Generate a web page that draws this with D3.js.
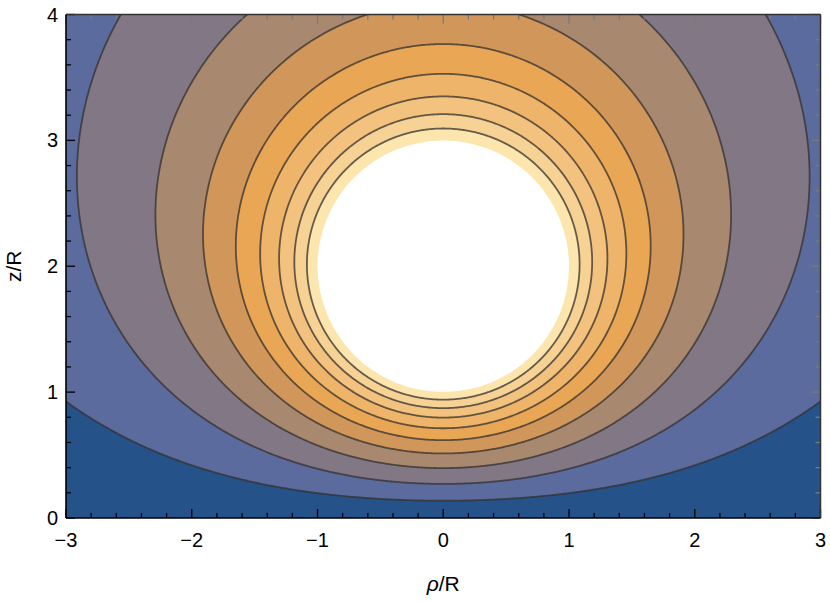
<!doctype html>
<html>
<head>
<script src="https://cdnjs.cloudflare.com/ajax/libs/d3/7.8.5/d3.min.js"></script>
<style>
body { margin: 0; background: #fff; }
svg { display: block; }
text { font-family: "Liberation Sans", Arial, sans-serif; }
</style>
</head>
<body>
<svg id="chart" width="830" height="602"></svg>
<script>
// contour levels of the potential (sphere = 1, plane = 0)
var levels = [0.1, 0.2, 0.3, 0.4, 0.5, 0.6, 0.7, 0.8, 0.9];
// fill of each band, lowest band first
var bandColors = ["#26528a", "#5b6b9e", "#817785", "#a8896f", "#d1965a",
                  "#e9a654", "#eeb469", "#f2c27e", "#f6d294", "#fce6ae"];
var xTicks = [-3, -2, -1, 0, 1, 2, 3];
var zTicks = [0, 1, 2, 3, 4];
var sphere = {rho: 0, z: 2, r: 1};   // sphere over a grounded plane z = 0

var width = 830, height = 602;
var margin = {left: 66, right: 9.5, top: 14.5, bottom: 84};

var svg = d3.select("#chart");
var xScale = d3.scaleLinear().domain([-3, 3]).range([margin.left, width - margin.right]);
var yScale = d3.scaleLinear().domain([0, 4]).range([height - margin.bottom, margin.top]);

// image charges of the sphere / plane system
var charges = [{z: sphere.z, q: 1}];
for (var k = 0; k < 14; k++) {
  var last = charges[charges.length - 1];
  var D = sphere.z + last.z;
  charges.push({z: sphere.z - sphere.r * sphere.r / D, q: last.q * sphere.r / D});
}
function potential(x, z) {
  var dx2 = (x - sphere.rho) * (x - sphere.rho);
  if (dx2 + (z - sphere.z) * (z - sphere.z) <= sphere.r * sphere.r) return 1;
  var v = 0;
  charges.forEach(function(c) {
    v += c.q / Math.sqrt(dx2 + (z - c.z) * (z - c.z)) - c.q / Math.sqrt(dx2 + (z + c.z) * (z + c.z));
  });
  return v;
}

// sample grid a little larger than the frame
var step = 0.01, x0 = -3.2, z0 = -0.2;
var nx = Math.round(6.4 / step) + 1, nz = Math.round(4.4 / step) + 1;
var values = new Float64Array(nx * nz);
for (var j = 0; j < nz; j++)
  for (var i = 0; i < nx; i++)
    values[i + j * nx] = potential(x0 + i * step, z0 + j * step);

var contours = d3.contours().size([nx, nz]).thresholds(levels)(values);
var path = d3.geoPath(d3.geoTransform({
  point: function(gx, gy) {
    this.stream.point(xScale(x0 + (gx - 0.5) * step), yScale(z0 + (gy - 0.5) * step));
  }
}));

svg.append("clipPath").attr("id", "plotClip")
  .append("rect")
  .attr("x", xScale(-3)).attr("y", yScale(4))
  .attr("width", xScale(3) - xScale(-3)).attr("height", yScale(0) - yScale(4));

var plot = svg.append("g").attr("clip-path", "url(#plotClip)");
plot.append("rect")
  .attr("x", xScale(-3)).attr("y", yScale(4))
  .attr("width", xScale(3) - xScale(-3)).attr("height", yScale(0) - yScale(4))
  .attr("fill", bandColors[0]);

plot.selectAll("path.band")
  .data(contours)
  .enter().append("path")
  .attr("class", "band")
  .attr("d", path)
  .attr("fill", (d, i) => bandColors[i + 1])
  .attr("stroke", "#34302e")
  .attr("stroke-opacity", 0.75)
  .attr("stroke-width", 1.8);

plot.append("circle")
  .attr("cx", xScale(sphere.rho)).attr("cy", yScale(sphere.z))
  .attr("r", xScale(sphere.r) - xScale(0))
  .attr("fill", "#fff");

// frame with inward ticks
var frame = svg.append("g");
function ticksAlong(lo, hi) {
  var out = [];
  for (var t = Math.round(lo * 5); t <= Math.round(hi * 5); t++) out.push({v: t / 5, major: t % 5 === 0});
  return out;
}
var xt = ticksAlong(-3, 3), zt = ticksAlong(0, 4);
var X0 = xScale(-3), X1 = xScale(3), Y0 = yScale(0), Y1 = yScale(4);

frame.selectAll("line.bt").data(xt).enter().append("line")
  .attr("x1", d => xScale(d.v)).attr("x2", d => xScale(d.v))
  .attr("y1", Y0).attr("y2", d => Y0 - (d.major ? 9 : 5))
  .attr("stroke", "#000").attr("stroke-width", 1.3);
frame.selectAll("line.tt").data(xt).enter().append("line")
  .attr("x1", d => xScale(d.v)).attr("x2", d => xScale(d.v))
  .attr("y1", Y1).attr("y2", d => Y1 + (d.major ? 9 : 5))
  .attr("stroke", "#7a7a7a").attr("stroke-width", 1.3);
frame.selectAll("line.lt").data(zt).enter().append("line")
  .attr("y1", d => yScale(d.v)).attr("y2", d => yScale(d.v))
  .attr("x1", X0).attr("x2", d => X0 + (d.major ? 9 : 5))
  .attr("stroke", "#000").attr("stroke-width", 1.3);
frame.selectAll("line.rt").data(zt).enter().append("line")
  .attr("y1", d => yScale(d.v)).attr("y2", d => yScale(d.v))
  .attr("x1", X1).attr("x2", d => X1 - (d.major ? 9 : 5))
  .attr("stroke", "#7a7a7a").attr("stroke-width", 1.3);

frame.append("line").attr("x1", X0).attr("x2", X1).attr("y1", Y1).attr("y2", Y1)
  .attr("stroke", "#333").attr("stroke-width", 1.5);
frame.append("line").attr("x1", X1).attr("x2", X1).attr("y1", Y1).attr("y2", Y0)
  .attr("stroke", "#333").attr("stroke-width", 1.5);
frame.append("line").attr("x1", X0).attr("x2", X1).attr("y1", Y0).attr("y2", Y0)
  .attr("stroke", "#000").attr("stroke-width", 1.6);
frame.append("line").attr("x1", X0).attr("x2", X0).attr("y1", Y1).attr("y2", Y0)
  .attr("stroke", "#000").attr("stroke-width", 1.6);

svg.selectAll("text.xl").data(xTicks).enter().append("text")
  .attr("x", d => xScale(d)).attr("y", Y0 + 29)
  .attr("text-anchor", "middle").attr("font-size", 20)
  .text(d => d < 0 ? "\u2212" + (-d) : d);
svg.selectAll("text.zl").data(zTicks).enter().append("text")
  .attr("x", X0 - 8).attr("y", d => yScale(d) + 7)
  .attr("text-anchor", "end").attr("font-size", 20)
  .text(d => d);

var xl = svg.append("text").attr("x", xScale(0)).attr("y", 591)
  .attr("text-anchor", "middle").attr("font-size", 21);
xl.append("tspan").attr("font-style", "italic").text("\u03c1");
xl.append("tspan").text("/R");

svg.append("text").attr("transform", "translate(21," + yScale(2) + ") rotate(-90)")
  .attr("text-anchor", "middle").attr("font-size", 21)
  .text("z/R");
</script>
</body>
</html>
